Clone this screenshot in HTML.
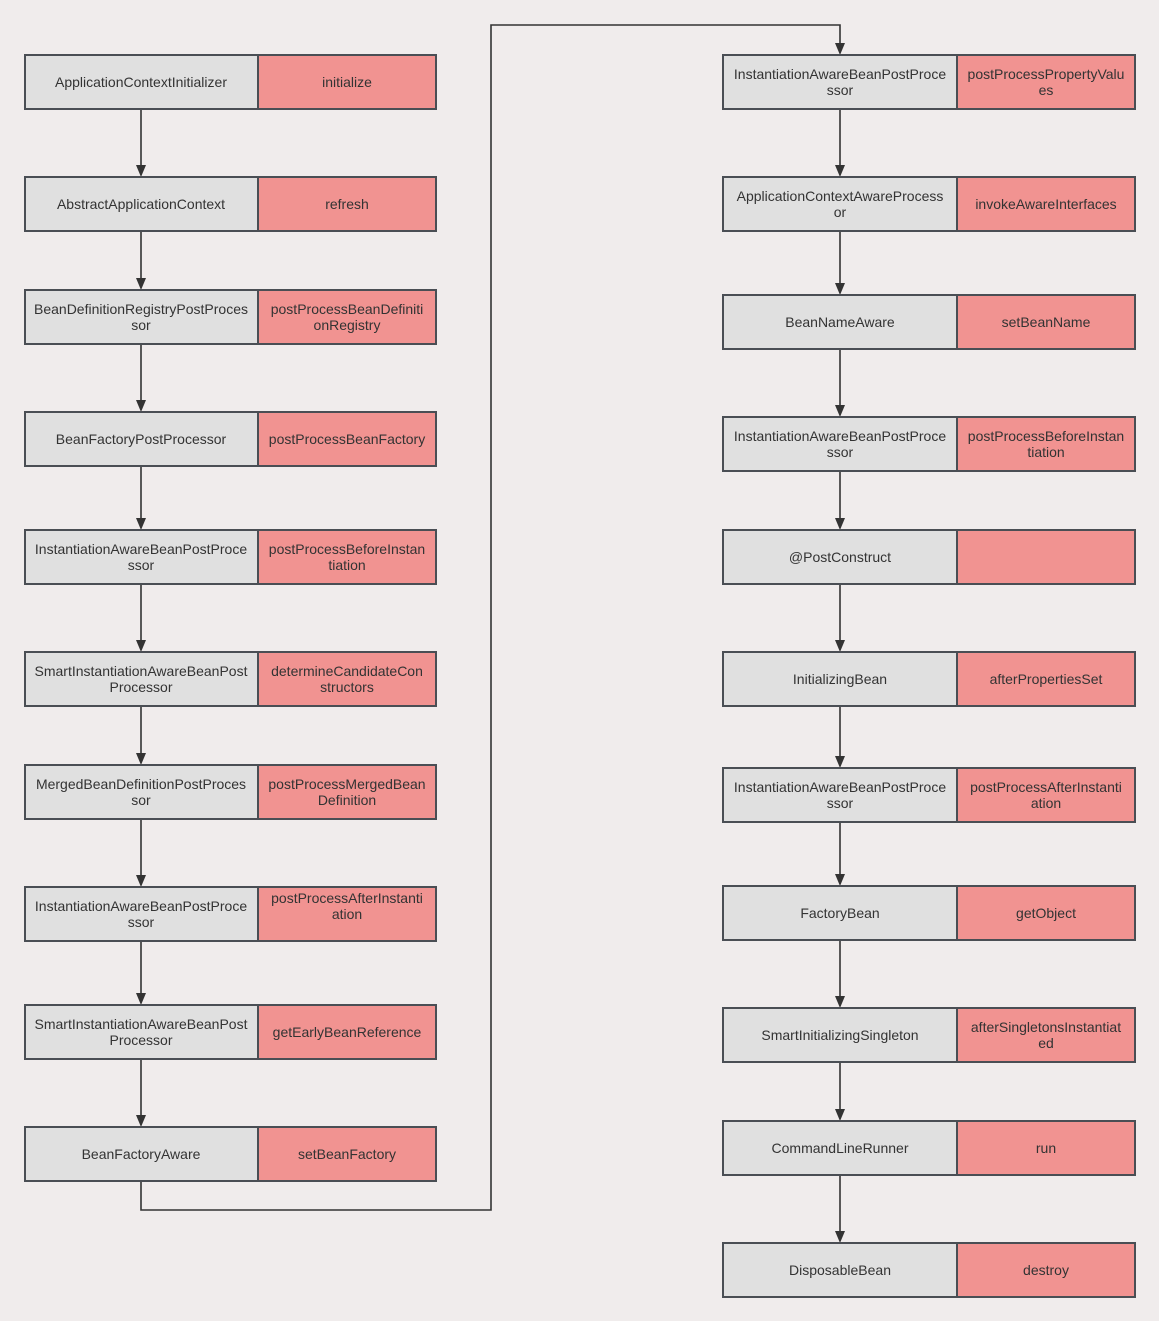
<!DOCTYPE html>
<html><head><meta charset="utf-8"><style>
html,body{margin:0;padding:0;background:#f0ecec;}
svg{display:block}
text{font-family:"Liberation Sans","Noto Sans CJK SC",sans-serif;font-size:14px;fill:#333;text-anchor:middle}
.g{fill:#e0e0e0;stroke:#4a4e54;stroke-width:2}
.r{fill:#f19391;stroke:#4a4e54;stroke-width:2}
.l{stroke:#333;stroke-width:1.6;fill:none}
.a{fill:#333}
</style></head><body>
<svg width="1159" height="1321" viewBox="0 0 1159 1321" xmlns="http://www.w3.org/2000/svg">
<rect width="1159" height="1321" fill="#f0ecec"/>

<g class="l">
<line x1="141" y1="109" x2="141" y2="167"/>
<line x1="141" y1="231" x2="141" y2="280"/>
<line x1="141" y1="344" x2="141" y2="402"/>
<line x1="141" y1="466" x2="141" y2="520"/>
<line x1="141" y1="584" x2="141" y2="642"/>
<line x1="141" y1="706" x2="141" y2="755"/>
<line x1="141" y1="819" x2="141" y2="877"/>
<line x1="141" y1="941" x2="141" y2="995"/>
<line x1="141" y1="1059" x2="141" y2="1117"/>
<polyline points="141,1181 141,1210 491,1210 491,25 840,25 840,45"/>
<line x1="840" y1="109" x2="840" y2="167"/>
<line x1="840" y1="231" x2="840" y2="285"/>
<line x1="840" y1="349" x2="840" y2="407"/>
<line x1="840" y1="471" x2="840" y2="520"/>
<line x1="840" y1="584" x2="840" y2="642"/>
<line x1="840" y1="706" x2="840" y2="758"/>
<line x1="840" y1="822" x2="840" y2="876"/>
<line x1="840" y1="940" x2="840" y2="998"/>
<line x1="840" y1="1062" x2="840" y2="1111"/>
<line x1="840" y1="1175" x2="840" y2="1233"/>
</g>
<g class="a">
<polygon points="136,165 146,165 141,177"/>
<polygon points="136,278 146,278 141,290"/>
<polygon points="136,400 146,400 141,412"/>
<polygon points="136,518 146,518 141,530"/>
<polygon points="136,640 146,640 141,652"/>
<polygon points="136,753 146,753 141,765"/>
<polygon points="136,875 146,875 141,887"/>
<polygon points="136,993 146,993 141,1005"/>
<polygon points="136,1115 146,1115 141,1127"/>
<polygon points="835,43 845,43 840,55"/>
<polygon points="835,165 845,165 840,177"/>
<polygon points="835,283 845,283 840,295"/>
<polygon points="835,405 845,405 840,417"/>
<polygon points="835,518 845,518 840,530"/>
<polygon points="835,640 845,640 840,652"/>
<polygon points="835,756 845,756 840,768"/>
<polygon points="835,874 845,874 840,886"/>
<polygon points="835,996 845,996 840,1008"/>
<polygon points="835,1109 845,1109 840,1121"/>
<polygon points="835,1231 845,1231 840,1243"/>
</g>

<g>
<rect class="g" x="25" y="55" width="233" height="54"/><rect class="r" x="258" y="55" width="178" height="54"/>
<text x="141" y="87">ApplicationContextInitializer</text><text x="347" y="87">initialize</text>

<rect class="g" x="25" y="177" width="233" height="54"/><rect class="r" x="258" y="177" width="178" height="54"/>
<text x="141" y="209">AbstractApplicationContext</text><text x="347" y="209">refresh</text>

<rect class="g" x="25" y="290" width="233" height="54"/><rect class="r" x="258" y="290" width="178" height="54"/>
<text x="141" y="314">BeanDefinitionRegistryPostProces</text><text x="141" y="330">sor</text>
<text x="347" y="314">postProcessBeanDefiniti</text><text x="347" y="330">onRegistry</text>

<rect class="g" x="25" y="412" width="233" height="54"/><rect class="r" x="258" y="412" width="178" height="54"/>
<text x="141" y="444">BeanFactoryPostProcessor</text><text x="347" y="444">postProcessBeanFactory</text>

<rect class="g" x="25" y="530" width="233" height="54"/><rect class="r" x="258" y="530" width="178" height="54"/>
<text x="141" y="554">InstantiationAwareBeanPostProce</text><text x="141" y="570">ssor</text>
<text x="347" y="554">postProcessBeforeInstan</text><text x="347" y="570">tiation</text>

<rect class="g" x="25" y="652" width="233" height="54"/><rect class="r" x="258" y="652" width="178" height="54"/>
<text x="141" y="676">SmartInstantiationAwareBeanPost</text><text x="141" y="692">Processor</text>
<text x="347" y="676">determineCandidateCon</text><text x="347" y="692">structors</text>

<rect class="g" x="25" y="765" width="233" height="54"/><rect class="r" x="258" y="765" width="178" height="54"/>
<text x="141" y="789">MergedBeanDefinitionPostProces</text><text x="141" y="805">sor</text>
<text x="347" y="789">postProcessMergedBean</text><text x="347" y="805">Definition</text>

<rect class="g" x="25" y="887" width="233" height="54"/><rect class="r" x="258" y="887" width="178" height="54"/>
<text x="141" y="911">InstantiationAwareBeanPostProce</text><text x="141" y="927">ssor</text>
<text x="347" y="903">postProcessAfterInstanti</text><text x="347" y="919">ation</text>

<rect class="g" x="25" y="1005" width="233" height="54"/><rect class="r" x="258" y="1005" width="178" height="54"/>
<text x="141" y="1029">SmartInstantiationAwareBeanPost</text><text x="141" y="1045">Processor</text>
<text x="347" y="1037">getEarlyBeanReference</text>

<rect class="g" x="25" y="1127" width="233" height="54"/><rect class="r" x="258" y="1127" width="178" height="54"/>
<text x="141" y="1159">BeanFactoryAware</text><text x="347" y="1159">setBeanFactory</text>
</g>

<g>
<rect class="g" x="723" y="55" width="234" height="54"/><rect class="r" x="957" y="55" width="178" height="54"/>
<text x="840" y="79">InstantiationAwareBeanPostProce</text><text x="840" y="95">ssor</text>
<text x="1046" y="79">postProcessPropertyValu</text><text x="1046" y="95">es</text>

<rect class="g" x="723" y="177" width="234" height="54"/><rect class="r" x="957" y="177" width="178" height="54"/>
<text x="840" y="201">ApplicationContextAwareProcess</text><text x="840" y="217">or</text>
<text x="1046" y="209">invokeAwareInterfaces</text>

<rect class="g" x="723" y="295" width="234" height="54"/><rect class="r" x="957" y="295" width="178" height="54"/>
<text x="840" y="327">BeanNameAware</text><text x="1046" y="327">setBeanName</text>

<rect class="g" x="723" y="417" width="234" height="54"/><rect class="r" x="957" y="417" width="178" height="54"/>
<text x="840" y="441">InstantiationAwareBeanPostProce</text><text x="840" y="457">ssor</text>
<text x="1046" y="441">postProcessBeforeInstan</text><text x="1046" y="457">tiation</text>

<rect class="g" x="723" y="530" width="234" height="54"/><rect class="r" x="957" y="530" width="178" height="54"/>
<text x="840" y="562">@PostConstruct</text>

<rect class="g" x="723" y="652" width="234" height="54"/><rect class="r" x="957" y="652" width="178" height="54"/>
<text x="840" y="684">InitializingBean</text><text x="1046" y="684">afterPropertiesSet</text>

<rect class="g" x="723" y="768" width="234" height="54"/><rect class="r" x="957" y="768" width="178" height="54"/>
<text x="840" y="792">InstantiationAwareBeanPostProce</text><text x="840" y="808">ssor</text>
<text x="1046" y="792">postProcessAfterInstanti</text><text x="1046" y="808">ation</text>

<rect class="g" x="723" y="886" width="234" height="54"/><rect class="r" x="957" y="886" width="178" height="54"/>
<text x="840" y="918">FactoryBean</text><text x="1046" y="918">getObject</text>

<rect class="g" x="723" y="1008" width="234" height="54"/><rect class="r" x="957" y="1008" width="178" height="54"/>
<text x="840" y="1040">SmartInitializingSingleton</text>
<text x="1046" y="1032">afterSingletonsInstantiat</text><text x="1046" y="1048">ed</text>

<rect class="g" x="723" y="1121" width="234" height="54"/><rect class="r" x="957" y="1121" width="178" height="54"/>
<text x="840" y="1153">CommandLineRunner</text><text x="1046" y="1153">run</text>

<rect class="g" x="723" y="1243" width="234" height="54"/><rect class="r" x="957" y="1243" width="178" height="54"/>
<text x="840" y="1275">DisposableBean</text><text x="1046" y="1275">destroy</text>
</g>
</svg>
</body></html>
